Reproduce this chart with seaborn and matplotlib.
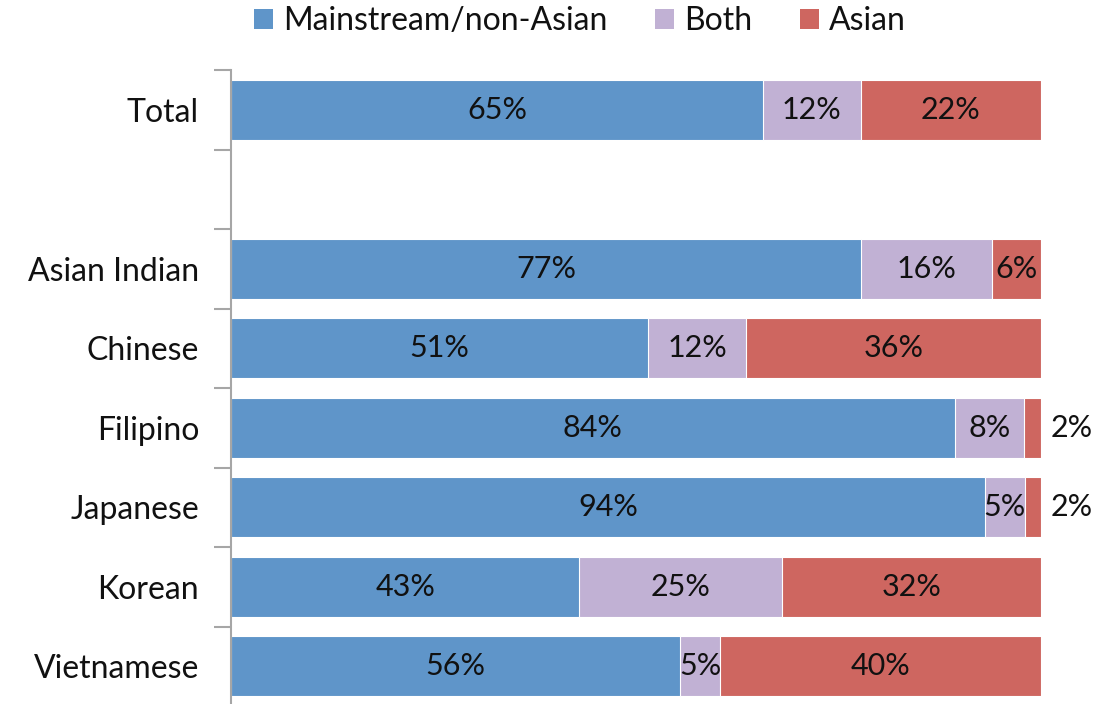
import matplotlib
matplotlib.use("Agg")
import matplotlib.pyplot as plt
import seaborn as sns
import numpy as np
import pandas as pd
from matplotlib.patches import Patch

groups = ["Total", "", "Asian Indian", "Chinese", "Filipino", "Japanese", "Korean", "Vietnamese"]
mainstream = [65, None, 77, 51, 84, 94, 43, 56]
both = [12, None, 16, 12, 8, 5, 25, 5]
asian = [22, None, 6, 36, 2, 2, 32, 40]
series_names = ["Mainstream/non-Asian", "Both", "Asian"]
colors = ["#5F95C9", "#C1B1D4", "#CE6660"]

sns.set_style("white")
plt.rcParams["font.family"] = ["Lato", "DejaVu Sans"]

rows = [i for i, g in enumerate(groups) if mainstream[i] is not None]
df = pd.DataFrame({
    "group": [groups[i] for i in rows],
    "m": [mainstream[i] for i in rows],
    "b": [both[i] for i in rows],
    "a": [asian[i] for i in rows],
})
tot = df["m"] + df["b"] + df["a"]
df["c1"] = df["m"] / tot
df["c2"] = (df["m"] + df["b"]) / tot
df["c3"] = 1.0

fig = plt.figure(figsize=(11.01, 7.04), dpi=100)
ax = fig.add_axes([231 / 1101, -2 / 704, 810 / 1101, 636 / 704])

for col, color in zip(["c3", "c2", "c1"], colors[::-1]):
    sns.barplot(data=df, x=col, y="group", order=groups, color=color, saturation=1,
                width=0.76, edgecolor="white", linewidth=0.8, ax=ax, orient="h")

ax.set_xlim(0, 1)
ax.set_ylim(len(groups) - 0.5, -0.5)
ax.set_xlabel("")
ax.set_ylabel("")
ax.set_xticks([])
ax.set_yticks(np.arange(len(groups)))
ax.set_yticklabels(groups, fontsize=23, color="#111111")
ax.set_yticks(np.arange(len(groups) + 1) - 0.5, minor=True)
ax.tick_params(axis="y", which="major", left=False, length=0, pad=23)
ax.tick_params(axis="y", which="minor", left=True, length=12, width=1.5, color="#A6A6A6")
for s in ["top", "right", "bottom"]:
    ax.spines[s].set_visible(False)
ax.spines["left"].set_color("#A6A6A6")
ax.spines["left"].set_linewidth(1.5)

for _, r in df.iterrows():
    y = groups.index(r["group"])
    starts = [0, r["c1"], r["c2"]]
    ends = [r["c1"], r["c2"], 1.0]
    vals = [r["m"], r["b"], r["a"]]
    for s, e, v in zip(starts, ends, vals):
        if e - s < 0.04:
            ax.text(1.038, y, f"{v}%", ha="center", va="center", fontsize=22,
                    color="#111111", clip_on=False)
        else:
            ax.text((s + e) / 2, y, f"{v}%", ha="center", va="center", fontsize=22,
                    color="#111111")

handles = [Patch(facecolor=c, edgecolor="none") for c in colors]
fig.legend(handles, series_names, loc="center", bbox_to_anchor=(580 / 1101, 1 - 21 / 704),
           ncol=3, frameon=False, fontsize=23, handlelength=0.6, handleheight=0.6,
           handletextpad=0.3, columnspacing=1.5, labelcolor="#111111")

fig.savefig("out.png", dpi=100)
